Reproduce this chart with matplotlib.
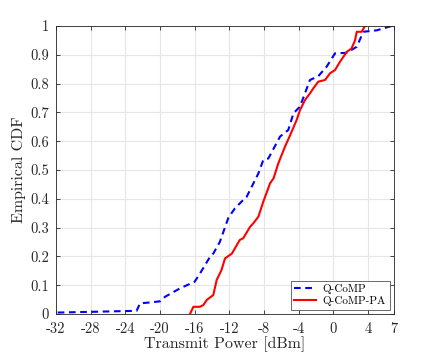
import matplotlib
matplotlib.use("Agg")
import matplotlib.pyplot as plt

# Q-CoMP (blue dashed) empirical CDF trace
qcomp_x = [-31.8, -22.7, -22.3, -21.2, -20.0, -19.4, -17.7, -16.0, -15.4, -14.8, -14.2, -13.85,
           -13.1, -12.1, -11.35, -10.4, -10.0, -8.65, -8.08, -7.5, -6.15, -5.2, -4.6, -3.85,
           -2.7, -1.73, -0.77, 0.19, 1.54, 2.7, 3.46, 5.0, 6.7]
qcomp_y = [0.005, 0.011, 0.037, 0.04, 0.044, 0.06, 0.089, 0.112, 0.14, 0.17, 0.2, 0.21,
           0.25, 0.335, 0.367, 0.396, 0.407, 0.488, 0.535, 0.54, 0.616, 0.639, 0.697, 0.72,
           0.8125, 0.826, 0.859, 0.905, 0.907, 0.928, 0.98, 0.985, 1.0]

# Q-CoMP-PA (red solid) empirical CDF trace
qcomppa_x = [-16.54, -16.15, -15.4, -15.0, -14.6, -13.85, -13.46, -12.9, -12.5, -11.7, -10.8,
             -10.4, -9.6, -9.23, -8.65, -8.08, -7.3, -6.9, -6.35, -5.58, -5.0, -4.23, -3.85,
             -3.27, -2.7, -2.3, -1.73, -0.96, -0.38, 0.19, 0.77, 1.54, 2.1, 2.5, 2.7, 3.27, 3.65]
qcomppa_y = [0.0, 0.025, 0.025, 0.031, 0.049, 0.066, 0.118, 0.153, 0.193, 0.21, 0.257,
             0.263, 0.303, 0.315, 0.338, 0.39, 0.454, 0.471, 0.523, 0.581, 0.62, 0.674, 0.708,
             0.743, 0.766, 0.784, 0.807, 0.8125, 0.836, 0.847, 0.876, 0.91, 0.922, 0.95, 0.98, 0.98, 1.0]

xticks = [-32, -28, -24, -20, -16, -12, -8, -4, 0, 4, 7]
yticks = [0, 0.1, 0.2, 0.3, 0.4, 0.5, 0.6, 0.7, 0.8, 0.9, 1]
ytick_labels = ["0", "0.1", "0.2", "0.3", "0.4", "0.5", "0.6", "0.7", "0.8", "0.9", "1"]

plt.rcParams['font.family'] = ['cmr10', 'DejaVu Serif']
plt.rcParams['axes.unicode_minus'] = False

fig = plt.figure(figsize=(4.36, 3.53), dpi=100)
ax = fig.add_axes([0.1284, 0.1105, 0.7753, 0.8158])

ax.plot(qcomp_x, qcomp_y, color='#0000ff', linestyle=(0, (3.2, 2.2)), linewidth=1.5, label='Q-CoMP')
ax.plot(qcomppa_x, qcomppa_y, color='#ff0000', linestyle='-', linewidth=1.5, label='Q-CoMP-PA')

ax.set_xlim(-32, 7)
ax.set_ylim(0, 1)
ax.set_xticks(xticks)
ax.set_xticklabels([str(t) for t in xticks])
ax.set_yticks(yticks)
ax.set_yticklabels(ytick_labels)
ax.grid(True, color='#e6e6e6', linewidth=0.8)
ax.set_axisbelow(True)
ax.tick_params(direction='in', top=True, right=True, length=3, width=0.6,
               colors='#262626', labelsize=10.5)
ax.tick_params(axis='x', pad=6)
ax.tick_params(axis='y', pad=5)
for s in ax.spines.values():
    s.set_color('#262626')
    s.set_linewidth(0.6)

ax.set_xlabel('Transmit Power [dBm]', fontsize=11.5, color='#262626', labelpad=0)
ax.set_ylabel('Empirical CDF', fontsize=11.5, color='#262626', labelpad=3)

leg = ax.legend(loc='lower right', fontsize=8, frameon=True, fancybox=False,
                edgecolor='#262626', borderaxespad=0.4, handlelength=2.0,
                borderpad=0.3, labelspacing=0.2, handletextpad=0.6)
leg.get_frame().set_linewidth(0.6)

fig.savefig('out.png', dpi=100)
